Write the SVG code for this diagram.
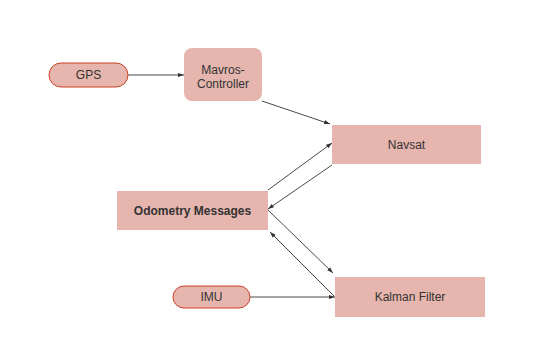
<svg xmlns="http://www.w3.org/2000/svg" width="554" height="346" viewBox="0 0 554 346">
<defs>
<style>
.box{fill:#e6b5ad;stroke:none}
.pill{fill:#e6b5ad;stroke:#cc4125;stroke-width:1}
.t{font-family:"Liberation Sans",Arial,sans-serif;font-size:12px;fill:#333;text-anchor:middle;dominant-baseline:central}
.b{font-weight:bold}
.c{stroke:#333;stroke-width:0.9;fill:none;marker-end:url(#ah)}
</style>
<marker id="ah" viewBox="0 0 10 10" refX="10" refY="5" markerWidth="6" markerHeight="6" orient="auto" markerUnits="userSpaceOnUse">
<path d="M0,1.5 L10,5 L0,8.5 z" fill="#333"/>
</marker>
</defs>
<rect width="554" height="346" fill="#fff"/>
<g id="connectors">
<line class="c" x1="128" y1="75" x2="184" y2="75"/>
<line class="c" x1="262" y1="101" x2="330" y2="124"/>
<line class="c" x1="268" y1="190" x2="332" y2="143"/>
<line class="c" x1="332" y1="165" x2="268" y2="209"/>
<line class="c" x1="268" y1="210" x2="333" y2="273"/>
<line class="c" x1="334" y1="296" x2="270" y2="232"/>
<line class="c" x1="250" y1="297" x2="335" y2="297"/>
</g>
<g id="gps">
<rect class="pill" x="49" y="63" width="79" height="24" rx="12"/>
<text class="t" x="88.5" y="75">GPS</text>
</g>
<g id="mavros">
<rect class="box" x="184" y="48" width="78" height="53" rx="8"/>
<text class="t" x="223" y="70">Mavros-</text>
<text class="t" x="223" y="84">Controller</text>
</g>
<g id="navsat">
<rect class="box" x="332" y="125" width="149" height="39"/>
<text class="t" x="406.5" y="144.5">Navsat</text>
</g>
<g id="odometry">
<rect class="box" x="117" y="191" width="151" height="39"/>
<text class="t b" x="192.5" y="211">Odometry Messages</text>
</g>
<g id="imu">
<rect class="pill" x="173" y="286" width="77" height="22" rx="11"/>
<text class="t" x="211.5" y="297">IMU</text>
</g>
<g id="kalman">
<rect class="box" x="335" y="277" width="150" height="40"/>
<text class="t" x="410" y="297">Kalman Filter</text>
</g>
</svg>
